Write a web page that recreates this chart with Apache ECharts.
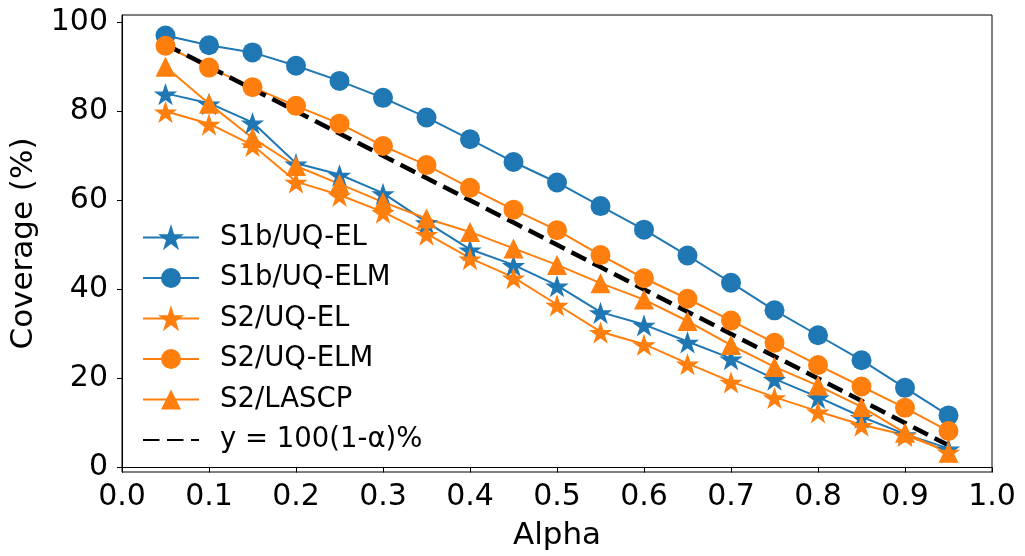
<!DOCTYPE html>
<html>
<head>
<meta charset="utf-8">
<title>Coverage vs Alpha</title>
<script src="https://cdn.jsdelivr.net/npm/echarts@6/dist/echarts.min.js"></script>
<style>
    html, body { margin: 0; padding: 0; background: #fff; }
    #chart { width: 1025px; height: 556px; }
</style>
</head>
<body>
<div id="chart"></div>
<script>
    // x values (alpha)
    const alphas = [0.05, 0.1, 0.15, 0.2, 0.25, 0.3, 0.35, 0.4, 0.45, 0.5,
        0.55, 0.6, 0.65, 0.7, 0.75, 0.8, 0.85, 0.9, 0.95]

    // coverage (%)
    const s1bUqEl = [84.0, 81.8, 77.5, 68.3, 65.8, 61.6, 55.1, 49.0, 45.5, 40.9,
        34.9, 32.1, 28.3, 24.5, 19.9, 15.8, 11.4, 7.5, 4.3]
    const s1bUqElm = [97.0, 94.8, 93.2, 90.2, 86.8, 83.0, 78.6, 73.7, 68.6, 64.0,
        58.7, 53.4, 47.6, 41.5, 35.3, 29.7, 24.1, 17.9, 11.7]
    const s2UqEl = [80.0, 77.2, 72.4, 64.2, 61.2, 57.4, 52.5, 47.0, 42.7, 36.6,
        30.5, 27.7, 23.4, 19.3, 15.8, 12.6, 9.6, 7.3, 3.6]
    const s2UqElm = [94.7, 89.8, 85.4, 81.2, 77.2, 72.2, 67.9, 62.8, 57.9, 53.3,
        47.7, 42.5, 37.9, 33.0, 28.0, 23.0, 18.2, 13.4, 8.2]
    const s2Lascp = [90.0, 81.7, 74.0, 67.7, 63.7, 59.6, 55.9, 52.9, 49.2, 45.5,
        41.4, 37.7, 32.9, 27.5, 22.6, 18.4, 13.6, 7.8, 3.3]
    // reference line y = 100(1-alpha)
    const refLine = [95, 90, 85, 80, 75, 70, 65, 60, 55, 50,
        45, 40, 35, 30, 25, 20, 15, 10, 5]

    // tick labels
    const xTicks = [0, 0.1, 0.2, 0.3, 0.4, 0.5, 0.6, 0.7, 0.8, 0.9, 1.0]
    const yTicks = [0, 20, 40, 60, 80, 100]

    const BLUE = '#1f77b4'
    const ORANGE = '#ff7f0e'
    const FONT = 'DejaVu Sans'

    // 5 point star (matplotlib '*')
    const STAR = 'path://M0,-100 L22.45,-30.9 L95.11,-30.9 L36.33,11.8 L58.78,80.9 L0,38.2 ' +
        'L-58.78,80.9 L-36.33,11.8 L-95.11,-30.9 L-22.45,-30.9 Z'

    function pairs(values) {
        return values.map((v, i) => [alphas[i], v])
    }

    function markerSeries(name, values, color, symbol) {
        const isStar = symbol === STAR
        return {
            name: name,
            type: 'line',
            data: pairs(values),
            color: color,
            symbol: symbol,
            symbolSize: isStar ? [19.5, 18.5] : 20,
            symbolOffset: isStar ? [0, 1] : [0, 0],
            lineStyle: { width: 2, color: color },
            // matplotlib draws an edge round its markers, it makes the stars fuller
            itemStyle: { color: color, borderColor: color, borderWidth: isStar ? 1.3 : 0 },
            emphasis: { disabled: true }
        }
    }

    const chart = echarts.init(document.getElementById('chart'))

    chart.setOption({
        animation: false,
        backgroundColor: '#fff',
        grid: {
            left: 119,
            right: 33,
            top: 15,
            bottom: 81,
            show: true,
            borderColor: '#000',
            borderWidth: 1
        },
        legend: {
            orient: 'vertical',
            left: 142,
            top: 223.5,
            padding: 0,
            itemWidth: 56,
            itemHeight: 25,
            itemGap: 12.5,
            textStyle: {
                fontFamily: FONT,
                fontSize: 27.5,
                lineHeight: 25,
                color: '#000',
                padding: [0, 0, 0, 16]
            },
            data: [
                'S1b/UQ-EL',
                'S1b/UQ-ELM',
                'S2/UQ-EL',
                'S2/UQ-ELM',
                'S2/LASCP',
                { name: 'y = 100(1-α)%', itemStyle: { opacity: 0 } }
            ]
        },
        xAxis: {
            type: 'value',
            min: 0,
            max: 1,
            name: 'Alpha',
            nameLocation: 'middle',
            nameGap: 48,
            nameTextStyle: { fontFamily: FONT, fontSize: 31, color: '#000' },
            axisLine: { show: true, lineStyle: { color: '#000', width: 1 } },
            axisTick: { show: true, length: 5, lineStyle: { color: '#000' }, customValues: xTicks },
            axisLabel: {
                fontFamily: FONT,
                fontSize: 30,
                color: '#000',
                margin: 10,
                customValues: xTicks,
                formatter: v => v.toFixed(1)
            },
            splitLine: { show: false }
        },
        yAxis: {
            type: 'value',
            min: -1,
            max: 101.6,
            name: 'Coverage (%)',
            nameLocation: 'middle',
            nameGap: 83,
            nameTextStyle: { fontFamily: FONT, fontSize: 31, color: '#000' },
            axisLine: { show: true, lineStyle: { color: '#000', width: 1 } },
            axisTick: { show: true, length: 5, lineStyle: { color: '#000' }, customValues: yTicks },
            axisLabel: {
                fontFamily: FONT,
                fontSize: 30,
                color: '#000',
                margin: 14,
                customValues: yTicks
            },
            splitLine: { show: false }
        },
        series: [
            markerSeries('S1b/UQ-EL', s1bUqEl, BLUE, STAR),
            markerSeries('S1b/UQ-ELM', s1bUqElm, BLUE, 'circle'),
            markerSeries('S2/UQ-EL', s2UqEl, ORANGE, STAR),
            markerSeries('S2/UQ-ELM', s2UqElm, ORANGE, 'circle'),
            markerSeries('S2/LASCP', s2Lascp, ORANGE, 'triangle'),
            {
                name: 'y = 100(1-α)%',
                type: 'line',
                data: pairs(refLine),
                color: '#000',
                symbol: 'circle',
                showSymbol: false,
                lineStyle: { width: 4.5, color: '#000', type: [16.5, 7.5] },
                itemStyle: { color: '#000' },
                emphasis: { disabled: true }
            }
        ]
    })
</script>
</body>
</html>
